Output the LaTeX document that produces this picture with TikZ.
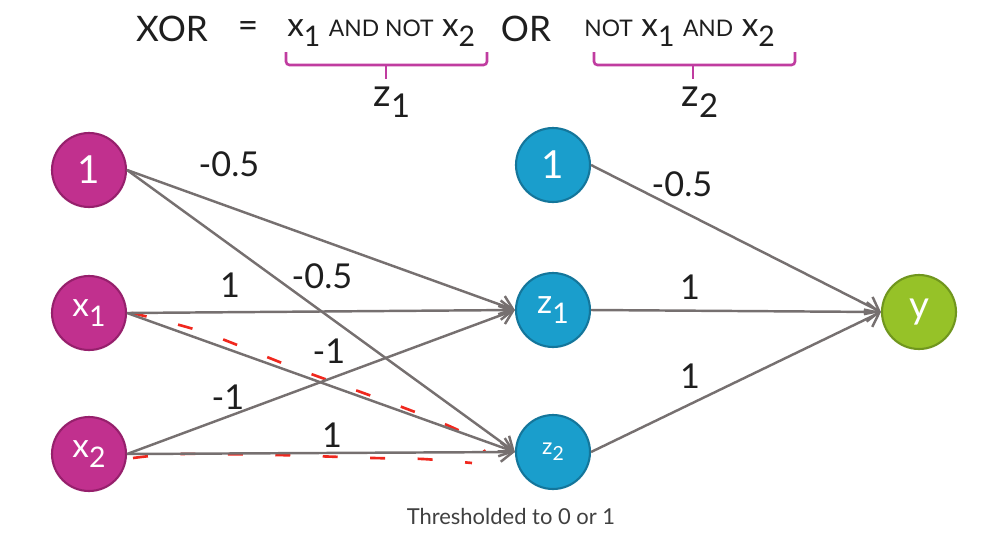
\documentclass[tikz,border=0pt]{standalone}
\usepackage{fontspec}
\setmainfont{Lato}
\usetikzlibrary{arrows.meta}

\definecolor{plum}{RGB}{193,48,142}
\definecolor{plumdark}{RGB}{150,32,108}
\definecolor{sky}{RGB}{26,158,204}
\definecolor{skydark}{RGB}{20,118,155}
\definecolor{lime}{RGB}{150,194,40}
\definecolor{limedark}{RGB}{112,150,30}
\definecolor{wire}{RGB}{118,112,112}
\definecolor{bracecol}{RGB}{192,60,160}
\definecolor{scribble}{RGB}{240,40,30}
\definecolor{ink}{RGB}{30,30,30}

\newcommand{\lowidx}[1]{\raisebox{-0.55ex}{\scalebox{0.85}{#1}}}
\newcommand{\fs}[1]{\fontsize{#1}{#1}\selectfont}

\begin{document}
\begin{tikzpicture}
      [x=0.02cm,y=-0.02cm,%%%%%%%%%%%%%%%%%%%%%%%%%%%%%%
      unit/.style={circle,draw,line width=1.2pt,minimum size=1.48cm,inner sep=0pt,text=white,font=\fs{19pt}},
      inunit/.style={unit,fill=plum,draw=plumdark},
      hidunit/.style={unit,fill=sky,draw=skydark},
      outunit/.style={unit,fill=lime,draw=limedark},
      weight/.style={draw=wire,line width=1.4pt,-{Straight Barb[length=7pt,width=11pt,line width=1.4pt]}},
      wlabel/.style={text=ink,font=\fs{19.5pt},inner sep=0pt},
      brace/.style={draw=bracecol,line width=1.5pt,rounded corners=2pt},
      redmark/.style={draw=scribble,line width=1.5pt,dash pattern=on 0.3cm off 0.65cm},
      ]%%%%%%%%%%%%%%%%%%%%%%%%%%%%%%
      \useasboundingbox (0,0) rectangle (992,532);

      % formula
      \node[text=ink,font=\fs{20pt}] (xor) at (172,29) {XOR};
      \node[text=ink,font=\fs{20pt}] (eq) at (248,30) {=};
      \node[text=ink,font=\fs{19pt},anchor=west,inner sep=0pt] (t1) at (287,33)
        {x\lowidx{1} {\fs{13pt}AND NOT} x\lowidx{2}};
      \node[text=ink,font=\fs{20pt}] (or) at (526,29) {OR};
      \node[text=ink,font=\fs{19pt},anchor=west,inner sep=0pt] (t2) at (584,33)
        {{\fs{13pt}NOT} x\lowidx{1} {\fs{13pt}AND} x\lowidx{2}};

      \draw[brace] (286,52) -- (286,65) -- (487,65) -- (487,52);
      \draw[brace] (386,65) -- (386,79);
      \draw[brace] (594,52) -- (594,65) -- (795,65) -- (795,52);
      \draw[brace] (693,65) -- (693,79);
      \node[text=ink,font=\fs{22pt}] (zl1) at (392,102) {z\lowidx{1}};
      \node[text=ink,font=\fs{22pt}] (zl2) at (700,102) {z\lowidx{2}};

      % units
      \node[inunit,font=\fs{22pt}] (b1) at (89,170) {1};
      \node[inunit] (x1) at (89,313) {x\lowidx{1}};
      \node[inunit] (x2) at (89,454) {x\lowidx{2}};
      \node[hidunit,font=\fs{22pt}] (b2) at (553,165) {1};
      \node[hidunit] (z1) at (553,310) {z\lowidx{1}};
      \node[hidunit,font=\fs{13pt}] (z2) at (553,452) {z\lowidx{2}};
      \node[outunit,font=\fs{22pt}] (y) at (919,312) {y};

      % red marks
      \draw[redmark] plot[smooth] coordinates {(132,313) (203,332) (295,368) (415,412) (470,436) (485,452)};
      \draw[redmark] plot[smooth] coordinates {(133,458) (179,454) (276,455) (373,458) (423,459) (472,463)};

      % weights
      \draw[weight] (b1.east) -- (z1.west);
      \draw[weight] (b1.east) -- (z2.west);
      \draw[weight] (x1.east) -- (z1.west);
      \draw[weight] (x1.east) -- (z2.west);
      \draw[weight] (x2.east) -- (z1.west);
      \draw[weight] (x2.east) -- (z2.west);
      \draw[weight] (b2.east) -- (y.west);
      \draw[weight] (z1.east) -- (y.west);
      \draw[weight] (z2.east) -- (y.west);

      \node[wlabel] (w1) at (229,164) {-0.5};
      \node[wlabel] (w2) at (230,285) {1};
      \node[wlabel] (w3) at (322,276) {-0.5};
      \node[wlabel] (w4) at (329,351) {-1};
      \node[wlabel] (w5) at (228,397) {-1};
      \node[wlabel] (w6) at (332,435) {1};
      \node[wlabel] (w7) at (682,184) {-0.5};
      \node[wlabel] (w8) at (690,287) {1};
      \node[wlabel] (w9) at (690,376) {1};

      \node[text=ink!85,font=\fs{12.5pt}] (note) at (511,516) {Thresholded to 0 or 1};
    \end{tikzpicture}
\end{document}
